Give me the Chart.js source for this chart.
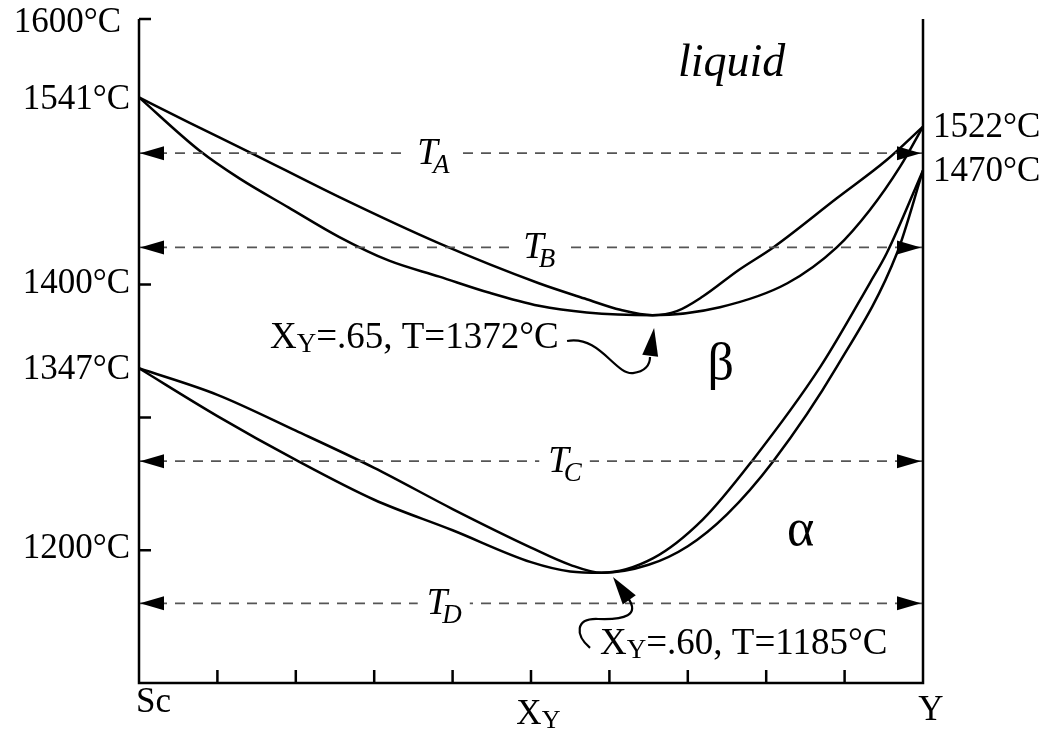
<!DOCTYPE html>
<html>
<head>
<meta charset="utf-8">
<script src="https://cdn.jsdelivr.net/npm/chart.js@4/dist/chart.umd.min.js"></script>
<style>
  html, body { margin: 0; padding: 0; background: #fff; }
  #wrap { width: 1049px; height: 731px; }
</style>
</head>
<body>
<div id="wrap"><canvas id="phase" width="1049" height="731"></canvas></div>
<script>
// Sc-Y phase diagram, composition X_Y (0 = Sc, 1 = Y) vs temperature in °C
const X_MIN = 0, X_MAX = 1, T_MIN = 1100, T_MAX = 1600;

// upper lens (liquid / beta)
const liquidusX = [0, 0.064, 0.14, 0.255, 0.383, 0.51, 0.571, 0.614, 0.655, 0.686, 0.719, 0.765, 0.809, 0.89, 0.954, 1];
const liquidusT = [1541, 1522, 1500, 1466, 1431, 1401, 1389, 1381, 1377, 1380, 1391, 1411, 1428, 1465, 1494, 1519];
const solidusX = [0, 0.077, 0.128, 0.191, 0.255, 0.319, 0.383, 0.446, 0.51, 0.571, 0.655, 0.741, 0.827, 0.89, 0.932, 0.971, 1];
const solidusT = [1541, 1501, 1480, 1458, 1436, 1418, 1406, 1394, 1384, 1379, 1377, 1383, 1401, 1428, 1456, 1489, 1519];

// lower lens (beta / alpha)
const betaTransusX = [0, 0.1, 0.2, 0.3, 0.4, 0.5, 0.55, 0.59, 0.656, 0.719, 0.783, 0.869, 0.932, 0.954, 1];
const betaTransusT = [1337, 1317, 1290, 1262, 1231, 1202, 1189, 1183, 1194, 1223, 1268, 1338, 1401, 1424, 1486];
const alphaTransusX = [0, 0.1, 0.2, 0.3, 0.4, 0.5, 0.55, 0.59, 0.65, 0.7, 0.75, 0.809, 0.89, 0.967, 1];
const alphaTransusT = [1337, 1301, 1268, 1238, 1215, 1191, 1184, 1183, 1189, 1203, 1227, 1267, 1338, 1424, 1486];

// isotherms T_A .. T_D
const isoNames = ['A', 'B', 'C', 'D'];
const isoT = [1499, 1428, 1267, 1160];

// axis ticks and labels
const yTicks = [1200, 1300, 1400, 1600];
const yTickLabels = ['1200°C', '', '1400°C', '1600°C'];
const xTicks = [0.1, 0.2, 0.3, 0.4, 0.5, 0.6, 0.7, 0.8, 0.9];
const leftEndT = [1541, 1337];
const leftEndLabels = ['1541°C', '1347°C'];
const rightEndT = [1519, 1486];
const rightEndLabels = ['1522°C', '1470°C'];

const SERIF = '"Liberation Serif", "DejaVu Serif", serif';

function toPoints(xs, ts) {
  return xs.map((x, i) => ({ x: x, y: ts[i] }));
}

const curveStyle = {
  borderColor: '#000',
  borderWidth: 2.5,
  pointRadius: 0,
  cubicInterpolationMode: 'monotone',
  fill: false,
  clip: false
};

const datasets = [];
isoT.forEach((t, i) => {
  datasets.push({
    label: 'T' + isoNames[i],
    data: [{ x: X_MIN, y: t }, { x: X_MAX, y: t }],
    borderColor: '#555',
    borderWidth: 1.8,
    borderDash: [10, 8],
    pointRadius: 0,
    clip: false
  });
});
datasets.push({ label: 'liquidus', data: toPoints(liquidusX, liquidusT), ...curveStyle });
datasets.push({ label: 'solidus', data: toPoints(solidusX, solidusT), ...curveStyle });
datasets.push({ label: 'beta transus', data: toPoints(betaTransusX, betaTransusT), ...curveStyle });
datasets.push({ label: 'alpha transus', data: toPoints(alphaTransusX, alphaTransusT), ...curveStyle });

// where the isotherm names sit along their lines
const isoLabelX = [0.355, 0.49, 0.522, 0.367];

// curly pointer arrows, in data units: start, then two cubic segments, then tip
const note1Path = [[0.546, 1357.5], [0.588, 1362], [0.607, 1332], [0.630, 1333.4], [0.6454, 1334.2], [0.6518, 1339.5], [0.6518, 1345.5]];
const note1Tip = [0.657, 1367.3];
const note2Path = [[0.5753, 1126.4], [0.5561, 1136.1], [0.5561, 1148.9], [0.5855, 1148.2], [0.6199, 1147.4], [0.639, 1151.2], [0.6237, 1164.0]];
const note2Tip = [0.6046, 1179.8];

function arrowHead(ctx, tx, ty, fx, fy, len, half) {
  let dx = tx - fx, dy = ty - fy;
  const d = Math.hypot(dx, dy) || 1;
  dx /= d; dy /= d;
  const bx = tx - dx * len, by = ty - dy * len;
  ctx.beginPath();
  ctx.moveTo(tx, ty);
  ctx.lineTo(bx - dy * half, by + dx * half);
  ctx.lineTo(bx + dy * half, by - dx * half);
  ctx.closePath();
  ctx.fill();
}

// "X" with a small lowered "Y", then the rest of the string
function drawXY(ctx, x, y, rest, size) {
  ctx.textAlign = 'left';
  ctx.textBaseline = 'alphabetic';
  ctx.font = size + 'px ' + SERIF;
  ctx.fillText('X', x, y);
  x += ctx.measureText('X').width;
  ctx.font = Math.round(size * 0.74) + 'px ' + SERIF;
  ctx.fillText('Y', x, y + 4);
  x += ctx.measureText('Y').width;
  ctx.font = size + 'px ' + SERIF;
  if (rest) ctx.fillText(rest, x, y);
}

const decor = {
  id: 'decor',
  afterDraw(chart) {
    const ctx = chart.ctx;
    const X = v => chart.scales.x.getPixelForValue(v);
    const Y = v => chart.scales.y.getPixelForValue(v);
    ctx.save();
    ctx.fillStyle = '#000';
    ctx.strokeStyle = '#000';

    // frame: left, bottom and right sides
    ctx.lineWidth = 2.5;
    ctx.lineJoin = 'miter';
    ctx.beginPath();
    ctx.moveTo(X(X_MIN), Y(T_MAX));
    ctx.lineTo(X(X_MIN), Y(T_MIN));
    ctx.lineTo(X(X_MAX), Y(T_MIN));
    ctx.lineTo(X(X_MAX), Y(T_MAX));
    ctx.stroke();

    // inward ticks
    ctx.beginPath();
    yTicks.forEach(t => {
      ctx.moveTo(X(X_MIN), Y(t));
      ctx.lineTo(X(X_MIN) + 12, Y(t));
    });
    xTicks.forEach(v => {
      ctx.moveTo(X(v), Y(T_MIN));
      ctx.lineTo(X(v), Y(T_MIN) - 13);
    });
    ctx.stroke();

    // temperature labels
    ctx.font = '35px ' + SERIF;
    ctx.textAlign = 'right';
    ctx.textBaseline = 'middle';
    yTicks.forEach((t, i) => {
      if (!yTickLabels[i]) return;
      const top = t === T_MAX;
      ctx.fillText(yTickLabels[i], X(X_MIN) - (top ? 18 : 9), Y(t) + (top ? 4 : -1));
    });
    leftEndT.forEach((t, i) => ctx.fillText(leftEndLabels[i], X(X_MIN) - 9, Y(t) + 2));
    ctx.textAlign = 'left';
    rightEndT.forEach((t, i) => ctx.fillText(rightEndLabels[i], X(X_MAX) + 10, Y(t) + 1));

    // composition labels
    ctx.textBaseline = 'alphabetic';
    ctx.fillText('Sc', X(X_MIN) - 3, Y(T_MIN) + 29);
    ctx.textAlign = 'center';
    ctx.fillText('Y', X(X_MAX) + 8, Y(T_MIN) + 37);
    ctx.font = '35px ' + SERIF;
    const xw = ctx.measureText('X').width;
    drawXY(ctx, X(0.5) - xw / 2 - 2, Y(T_MIN) + 41, '', 35);

    // isotherm arrows and names
    isoT.forEach((t, i) => {
      arrowHead(ctx, X(X_MIN) + 1, Y(t), X(X_MIN) + 30, Y(t), 24, 7);
      arrowHead(ctx, X(X_MAX) - 2, Y(t), X(X_MAX) - 30, Y(t), 24, 7);
      const lx = X(isoLabelX[i]);
      ctx.font = 'italic 37px ' + SERIF;
      const tw = ctx.measureText('T').width;
      ctx.font = 'italic 27px ' + SERIF;
      const sw = ctx.measureText(isoNames[i]).width;
      ctx.fillStyle = '#fff';
      ctx.fillRect(lx - 9, Y(t) - 4, tw + sw + 12, 8);
      ctx.fillStyle = '#000';
      ctx.textAlign = 'left';
      ctx.font = 'italic 37px ' + SERIF;
      ctx.fillText('T', lx, Y(t) + 11);
      ctx.font = 'italic 27px ' + SERIF;
      ctx.fillText(isoNames[i], lx + tw - 5, Y(t) + 20);
    });

    // phase names
    ctx.textAlign = 'center';
    ctx.font = 'italic 46px ' + SERIF;
    ctx.fillText('liquid', X(0.756), Y(1557));
    ctx.font = '52px ' + SERIF;
    ctx.fillText('β', X(0.742), Y(1329));
    ctx.fillText('α', X(0.844), Y(1204));

    // minimum annotations
    drawXY(ctx, X(0.167), Y(1352.3), '=.65, T=1372°C', 37);
    drawXY(ctx, X(0.588), Y(1121.8), '=.60, T=1185°C', 37);

    ctx.lineWidth = 2.2;
    [[note1Path, note1Tip], [note2Path, note2Tip]].forEach(([p, tip]) => {
      const q = p.map(([a, b]) => [X(a), Y(b)]);
      ctx.beginPath();
      ctx.moveTo(q[0][0], q[0][1]);
      ctx.bezierCurveTo(q[1][0], q[1][1], q[2][0], q[2][1], q[3][0], q[3][1]);
      ctx.bezierCurveTo(q[4][0], q[4][1], q[5][0], q[5][1], q[6][0], q[6][1]);
      ctx.stroke();
      arrowHead(ctx, X(tip[0]), Y(tip[1]), q[6][0], q[6][1], 28, 8);
    });

    ctx.restore();
  }
};

new Chart(document.getElementById('phase').getContext('2d'), {
  type: 'line',
  data: { datasets: datasets },
  options: {
    responsive: false,
    animation: false,
    devicePixelRatio: 1,
    layout: { padding: { left: 139, right: 126, top: 19, bottom: 48 } },
    plugins: { legend: { display: false }, tooltip: { enabled: false } },
    scales: {
      x: { type: 'linear', min: X_MIN, max: X_MAX, display: false },
      y: { type: 'linear', min: T_MIN, max: T_MAX, display: false }
    }
  },
  plugins: [decor]
});
</script>
</body>
</html>
